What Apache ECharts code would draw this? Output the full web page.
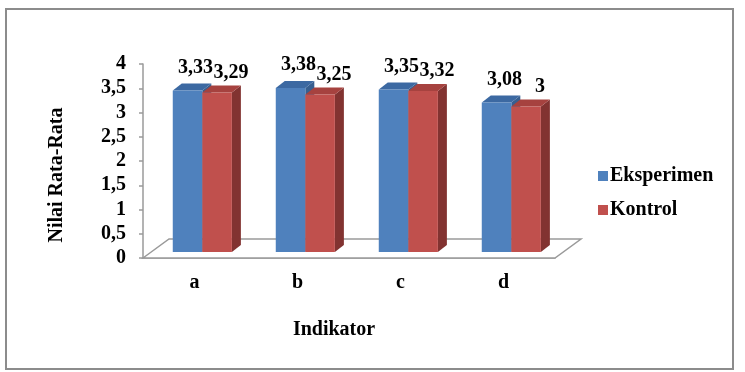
<!DOCTYPE html>
<html>
<head>
<meta charset="utf-8">
<script src="https://cdn.jsdelivr.net/npm/echarts@6/dist/echarts.min.js"></script>
<style>
html,body{margin:0;padding:0;background:#fff;}
#chart{width:745px;height:372px;}
</style>
</head>
<body>
<div id="chart"></div>
<script>
var categories = ['a', 'b', 'c', 'd'];
var eksperimen = [3.33, 3.38, 3.35, 3.08];
var kontrol = [3.29, 3.25, 3.32, 3.00];
var yTicks = { min: 0, max: 4, interval: 0.5 };
var seriesNames = ['Eksperimen', 'Kontrol'];

var FONT = '"Liberation Serif", "Times New Roman", serif';
var faceColors = [
  { front: '#4F81BD', top: '#3C69A2', side: '#375F90' },
  { front: '#C0504D', top: '#A6423F', side: '#823331' }
];

function fmt(v) { return String(v).replace('.', ','); }

function makeRender(si) {
  var c = faceColors[si];
  return function (params, api) {
    var cat = api.value(0), v = api.value(1);
    var base = api.coord([cat, 0]);
    var top = api.coord([cat, v]);
    var band = api.size([1, 0])[0];
    var w = band * 0.287;
    var ox = band * 0.076, oy = -6;
    var dx = 9, dy = -7;
    var x0 = base[0] + ox + (si === 0 ? -w : 0);
    var x1 = x0 + w;
    var yb = base[1] + oy, yt = top[1] + oy;
    var children = [
      { type: 'polygon', shape: { points: [[x1, yt], [x1 + dx, yt + dy], [x1 + dx, yb + dy], [x1, yb]] }, style: { fill: c.side } },
      { type: 'polygon', shape: { points: [[x0, yt], [x0 + dx, yt + dy], [x1 + dx, yt + dy], [x1, yt]] }, style: { fill: c.top } },
      { type: 'rect', shape: { x: x0, y: yt, width: w, height: yb - yt }, style: { fill: c.front } },
      { type: 'text', x: (x0 + x1) / 2 + dx + (si === 0 ? -1 : 5), y: yt + dy + (si === 0 ? -16 : -13),
        style: { text: fmt(v), font: 'bold 20px ' + FONT, fill: '#000', align: 'center', verticalAlign: 'middle' } }
    ];
    return { type: 'group', children: children };
  };
}

function floorRender(params, api) {
  var cs = params.coordSys;
  var x = cs.x, y = cs.y + cs.height, w = cs.width;
  var ddx = 26, ddy = -19;
  return {
    type: 'polygon',
    shape: { points: [[x, y], [x + ddx, y + ddy], [x + w + ddx, y + ddy], [x + w, y]] },
    style: { fill: '#fff', stroke: '#9a9a9a', lineWidth: 1.5 },
    z2: 0
  };
}

var chart = echarts.init(document.getElementById('chart'));
chart.setOption({
  animation: false,
  backgroundColor: '#fff',
  graphic: [{
    type: 'rect', shape: { x: 6, y: 9, width: 727, height: 360 },
    style: { fill: 'none', stroke: '#8c8c8c', lineWidth: 2 }, z: -1
  }],
  grid: { left: 143, right: 190, top: 64, bottom: 114 },
  legend: {
    orient: 'vertical', left: 593, top: 161,
    itemWidth: 10, itemHeight: 10, itemGap: 14,
    icon: 'rect',
    data: seriesNames,
    textStyle: { fontFamily: FONT, fontWeight: 'bold', fontSize: 20, color: '#000', lineHeight: 20, padding: [0, 0, 0, -3] }
  },
  xAxis: {
    type: 'category', data: categories,
    name: 'Indikator', nameLocation: 'middle', nameGap: 62,
    nameTextStyle: { fontFamily: FONT, fontWeight: 'bold', fontSize: 20, color: '#000', padding: [0, 30, 0, 0] },
    axisLine: { lineStyle: { color: '#9a9a9a', width: 1.5 } },
    axisTick: { show: false },
    axisLabel: { margin: 15, fontFamily: FONT, fontWeight: 'bold', fontSize: 20, color: '#000' }
  },
  yAxis: {
    type: 'value', min: yTicks.min, max: yTicks.max, interval: yTicks.interval,
    name: 'Nilai Rata-Rata', nameLocation: 'middle', nameGap: 76, nameRotate: 90,
    nameTextStyle: { fontFamily: FONT, fontWeight: 'bold', fontSize: 20, color: '#000', padding: [0, 28, 0, 0] },
    axisLine: { show: true, lineStyle: { color: '#9a9a9a', width: 1.5 } },
    axisTick: { show: true, length: 4, lineStyle: { color: '#9a9a9a', width: 1.5 } },
    splitLine: { show: false },
    axisLabel: { margin: 17, fontFamily: FONT, fontWeight: 'bold', fontSize: 20, color: '#000', formatter: fmt }
  },
  series: [
    { type: 'custom', name: 'floor', renderItem: floorRender, data: [[0, 0]], z: 1, silent: true },
    { type: 'custom', name: seriesNames[0], renderItem: makeRender(0), itemStyle: { color: faceColors[0].front },
      data: categories.map(function (c, i) { return [i, eksperimen[i]]; }), z: 2 },
    { type: 'custom', name: seriesNames[1], renderItem: makeRender(1), itemStyle: { color: faceColors[1].front },
      data: categories.map(function (c, i) { return [i, kontrol[i]]; }), z: 3 }
  ]
});
</script>
</body>
</html>
